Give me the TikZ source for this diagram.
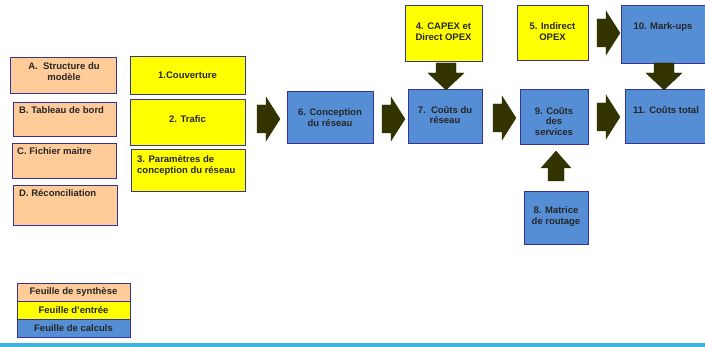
\documentclass[tikz,border=0pt]{standalone}
\usepackage{fontspec}
\setmainfont{Liberation Sans}
\definecolor{peach}{HTML}{FFCC99}
\definecolor{yel}{HTML}{FFFF00}
\definecolor{blu}{HTML}{558ED5}
\definecolor{edge}{HTML}{333399}
\definecolor{arr}{HTML}{333300}
\definecolor{cyanline}{HTML}{3DB5E0}
\tikzset{
  box/.style={draw=edge, line width=0.9pt},
  syn/.style={box, fill=peach},
  inp/.style={box, fill=yel},
  calc/.style={box, fill=blu},
  txt/.style={inner sep=0pt, font=\fontsize{9.5}{10.8}\selectfont\bfseries, text=black!85},
  blk/.style={fill=arr, draw=arr!80!black, line width=0.3pt}
}
\newcommand\rarr[2]{\path[blk] (#1,#2-14) -- (#1+9,#2-14) -- (#1+9,#2-22) -- (#1+23,#2) -- (#1+9,#2+22) -- (#1+9,#2+14) -- (#1,#2+14) -- cycle;}
\newcommand\darr[2]{\path[blk] (#1-10,#2) -- (#1+10,#2) -- (#1+10,#2+10) -- (#1+18,#2+10) -- (#1,#2+27) -- (#1-18,#2+10) -- (#1-10,#2+10) -- cycle;}
\newcommand\uarr[2]{\path[blk] (#1-8,#2+30) -- (#1+8,#2+30) -- (#1+8,#2+17) -- (#1+15,#2+17) -- (#1,#2) -- (#1-15,#2+17) -- (#1-8,#2+17) -- cycle;}
\begin{document}
\begin{tikzpicture}[x=1pt,y=-1pt]
\useasboundingbox (0,0) rectangle (705,347);
\clip (0,0) rectangle (705,347);
% summary sheets
\path[syn] (10,57) rectangle (116,93) coordinate (A);
\path[syn] (13,102) rectangle (116,136) coordinate (B);
\path[syn] (12,143) rectangle (116,178) coordinate (C);
\path[syn] (13,185) rectangle (117,225) coordinate (D);
\node[txt, anchor=north, align=center] (tA) at (64,62.5) {A.\ \ Structure du\\modèle};
\node[txt, anchor=north west] (tB) at (19,106.5) {B. Tableau de bord};
\node[txt, anchor=north west] (tC) at (17,147.5) {C. Fichier maitre};
\node[txt, anchor=north west] (tD) at (19,189.5) {D. Réconciliation};
% input sheets
\path[inp] (130,56) rectangle (245,94);
\path[inp] (130,99) rectangle (245,145);
\path[inp] (131,149) rectangle (245,191);
\node[txt] (t1) at (187.5,75) {1.Couverture};
\node[txt] (t2) at (187.5,119) {2. Trafic};
\node[txt, anchor=north west, align=left] (t3) at (137,155.5) {3. Paramètres de\\conception du réseau};
\path[inp] (405,5) rectangle (482,61);
\node[txt, align=center] (t4) at (443.5,32) {4. CAPEX et\\Direct OPEX};
\path[inp] (517,5) rectangle (588,60);
\node[txt, align=center] (t5) at (552.5,32) {5. Indirect\\OPEX};
% calculation sheets
\path[calc] (287,91) rectangle (373,143);
\node[txt, align=center] (t6) at (330,117.5) {6. Conception\\du réseau};
\path[calc] (408,89) rectangle (482,143);
\node[txt, align=center] (t7) at (445,115) {7.\ \ Coûts du\\réseau};
\path[calc] (520,89) rectangle (588,144);
\node[txt, align=center] (t9) at (554,121.5) {9. Coûts\\des\\services};
\path[calc] (524,191) rectangle (588,244);
\node[txt, align=center] (t8) at (556,216.5) {8. Matrice\\de routage};
\path[calc] (621,5) rectangle (720,63);
\node[txt] (t10) at (663,27) {10. Mark-ups};
\path[calc] (625,89) rectangle (720,143);
\node[txt] (t11) at (666,110) {11. Coûts total};
% block arrows
\rarr{257}{119}
\rarr{382}{119}
\rarr{493}{118}
\rarr{597}{117}
\rarr{597}{33}
\darr{446}{63}
\darr{664}{63}
\uarr{556}{151}
% legend
\path[syn] (17,283) rectangle (130,301);
\path[inp] (17,301) rectangle (130,319);
\path[calc] (17,319) rectangle (130,337);
\node[txt] (l1) at (73.5,292) {Feuille de synthèse};
\node[txt] (l2) at (73.5,310) {Feuille d'entrée};
\node[txt] (l3) at (73.5,328) {Feuille de calculs};
% bottom rule
\fill[cyanline] (0,343) rectangle (705,347);
\end{tikzpicture}
\end{document}
